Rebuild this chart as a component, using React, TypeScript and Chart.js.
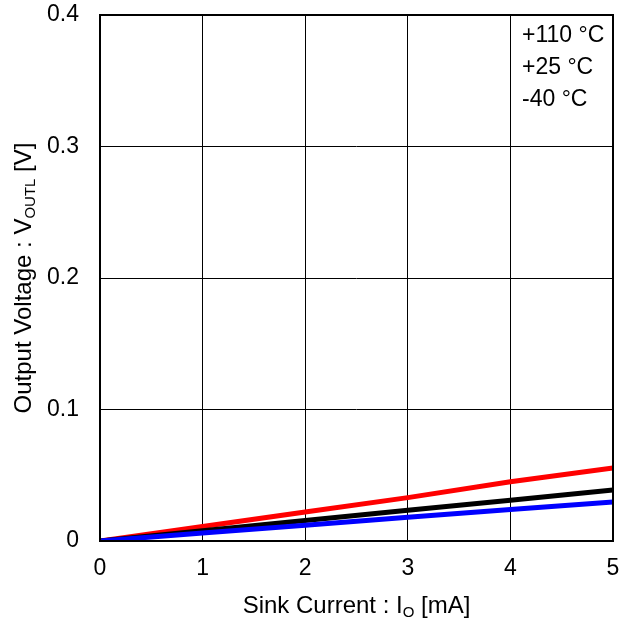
import React, { useEffect, useRef } from "react";
import { Chart, registerables } from "chart.js";

Chart.register(...registerables);

const currents = [0, 1, 2, 3, 4, 5];
const v110 = [0, 0.011, 0.022, 0.033, 0.045, 0.0555];
const v25 = [0, 0.0078, 0.0156, 0.0234, 0.031, 0.0388];
const vm40 = [0, 0.006, 0.012, 0.018, 0.024, 0.0297];
const legendLabels = ["+110 °C", "+25 °C", "-40 °C"];
const xTitle = ["Sink Current : I", "O", " [mA]"];
const yTitle = ["Output Voltage : V", "OUTL", " [V]"];

const FONT = "Liberation Sans, Arial, sans-serif";

function drawSubText(ctx: CanvasRenderingContext2D, parts: string[], cx: number, cy: number) {
  const main = `24px ${FONT}`;
  const sub = `15px ${FONT}`;
  ctx.font = main;
  const w0 = ctx.measureText(parts[0]).width;
  const w2 = ctx.measureText(parts[2]).width;
  ctx.font = sub;
  const w1 = ctx.measureText(parts[1]).width;
  const total = w0 + w1 + w2;
  let x = cx - total / 2;
  ctx.textBaseline = "middle";
  ctx.textAlign = "left";
  ctx.fillStyle = "#000";
  ctx.font = main;
  ctx.fillText(parts[0], x, cy);
  x += w0;
  ctx.font = sub;
  ctx.fillText(parts[1], x, cy + 7);
  x += w1;
  ctx.font = main;
  ctx.fillText(parts[2], x, cy);
}

const overlay = {
  id: "overlay",
  afterDraw(chart: any) {
    const ctx = chart.ctx as CanvasRenderingContext2D;
    const a = chart.chartArea;
    ctx.save();
    ctx.strokeStyle = "#000";
    ctx.lineWidth = 2;
    ctx.strokeRect(a.left, a.top, a.right - a.left, a.bottom - a.top);
    ctx.font = `23px ${FONT}`;
    ctx.fillStyle = "#000";
    ctx.textAlign = "left";
    ctx.textBaseline = "middle";
    legendLabels.forEach((t, i) => ctx.fillText(t, 522, 36 + i * 32));
    drawSubText(ctx, xTitle, (a.left + a.right) / 2, 606);
    ctx.translate(24, (a.top + a.bottom) / 2);
    ctx.rotate(-Math.PI / 2);
    drawSubText(ctx, yTitle, 0, 0);
    ctx.restore();
  },
};

export default function App() {
  const ref = useRef<HTMLCanvasElement>(null);
  useEffect(() => {
    document.body.style.margin = "0";
    const mk = (d: number[]) => currents.map((x, i) => ({ x, y: d[i] }));
    const chart = new Chart(ref.current!, {
      type: "line",
      data: {
        datasets: [
          { label: legendLabels[2], data: mk(vm40), borderColor: "#0000ff", borderWidth: 5, pointRadius: 0 },
          { label: legendLabels[1], data: mk(v25), borderColor: "#000000", borderWidth: 5, pointRadius: 0 },
          { label: legendLabels[0], data: mk(v110), borderColor: "#ff0000", borderWidth: 5, pointRadius: 0 },
        ],
      },
      options: {
        animation: false,
        responsive: false,
        devicePixelRatio: 1,
        layout: { padding: { left: 0, right: 20, top: 15, bottom: 0 } },
        plugins: { legend: { display: false }, tooltip: { enabled: false } },
        scales: {
          x: {
            type: "linear",
            min: 0,
            max: 5,
            afterFit: (s: any) => { s.height = 84; s.paddingLeft = 0; s.paddingRight = 0; },
            ticks: { stepSize: 1, color: "#000", font: { family: FONT, size: 23 }, padding: 14 },
            grid: { color: "#000", lineWidth: 1, drawTicks: false },
            border: { display: false },
          },
          y: {
            type: "linear",
            min: 0,
            max: 0.4,
            afterFit: (s: any) => { s.width = 100; s.paddingTop = 0; s.paddingBottom = 0; },
            ticks: {
              stepSize: 0.1,
              color: "#000",
              font: { family: FONT, size: 23 },
              padding: 21,
              callback: (v: any) => (v === 0 ? "0" : Number(v).toFixed(1)),
            },
            grid: { color: "#000", lineWidth: 1, drawTicks: false },
            border: { display: false },
          },
        },
      },
      plugins: [overlay],
    });
    return () => chart.destroy();
  }, []);
  return <canvas ref={ref} width={633} height={625} style={{ display: "block" }} />;
}
